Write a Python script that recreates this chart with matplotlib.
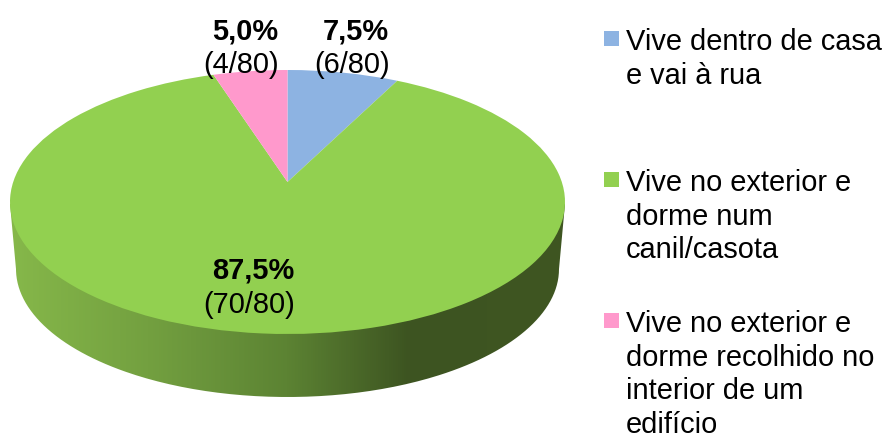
import numpy as np
import matplotlib
matplotlib.use("Agg")
import matplotlib.pyplot as plt
from matplotlib.patches import Rectangle, PathPatch
from matplotlib.path import Path
from matplotlib.transforms import Transform
from matplotlib.colors import LinearSegmentedColormap

categories = ["Vive dentro de casa\ne vai à rua",
              "Vive no exterior e\ndorme num\ncanil/casota",
              "Vive no exterior e\ndorme recolhido no\ninterior de um\nedifício"]
counts = [6, 70, 4]
total = 80
colors = ["#8DB3E2", "#92D050", "#FF99CC"]

plt.rcParams["font.family"] = ["Liberation Sans", "DejaVu Sans"]
W, H = 886, 435
FS = 20.9

# Geometry of the tilted pie, in pixels
APEX = (287.5, 183.0)
UP, DOWN = 112.0, 152.0
HALF_W = 277.5
c = (DOWN - UP) / (DOWN + UP)
a = UP * (1 + c)
k = HALF_W * np.sqrt(1 - c * c)


class Tilt(Transform):
    input_dims = output_dims = 2

    def transform_non_affine(self, values):
        values = np.asarray(values)
        d = 1 + c * values[:, 1]
        return np.column_stack([APEX[0] + k * values[:, 0] / d,
                                APEX[1] - a * values[:, 1] / d])


fig = plt.figure(figsize=(W / 100, H / 100), dpi=100)
ax = fig.add_axes([0, 0, 1, 1])

# Side wall with a horizontal gradient
side_cmap = LinearSegmentedColormap.from_list(
    "side", [(0, "#86B84A"), (0.25, "#73A040"), (0.5, "#5C8333"), (0.72, "#3D5421"), (1, "#3F5622")])
grad = np.linspace(0, 1, 512).reshape(1, -1)
im = ax.imshow(grad, cmap=side_cmap, extent=(9, 565, 399, 190), aspect="auto", zorder=1)
t = np.linspace(0, np.pi, 200)
xs = 287.5 + 271.5 * np.cos(t)
ys = 270 + 128 * np.sin(t)
outline = np.vstack([[(565, 205)], np.column_stack([xs, ys]), [(10, 205)], [(565, 205)]])
clip = PathPatch(Path(outline), transform=ax.transData, fc="none", ec="none")
ax.add_patch(clip)
im.set_clip_path(clip)

# Top face: a real pie, projected by the tilt transform
wedges, _ = ax.pie(counts, colors=colors, startangle=90, counterclock=False,
                   wedgeprops={"linewidth": 0})
tilt = Tilt()
for w in wedges:
    w.set_transform(tilt + ax.transData)
    w.set_zorder(2)

ax.set_aspect("auto")
ax.set_xlim(0, W)
ax.set_ylim(H, 0)
ax.axis("off")

# Data labels
label_pos = [((356, 39), (352, 73)), ((253, 279), (249, 313)), ((245, 39), (241, 73))]
for v, (p1, p2) in zip(counts, label_pos):
    pct = f"{100 * v / total:.1f}%".replace(".", ",")
    ax.text(*p1, pct, fontsize=FS, fontweight="bold", ha="center", va="baseline", zorder=5)
    ax.text(*p2, f"({v}/{total})", fontsize=FS, ha="center", va="baseline", zorder=5)

# Legend
legend_y = [50, 191, 332]
for lab, col, y0 in zip(categories, colors, legend_y):
    ax.add_patch(Rectangle((604, y0 - 18), 15, 15, fc=col, ec="none", zorder=5))
    for i, line in enumerate(lab.split("\n")):
        ax.text(626, y0 + i * 33.6, line, fontsize=FS, ha="left", va="baseline", zorder=5)

fig.savefig("out.png", dpi=100)
